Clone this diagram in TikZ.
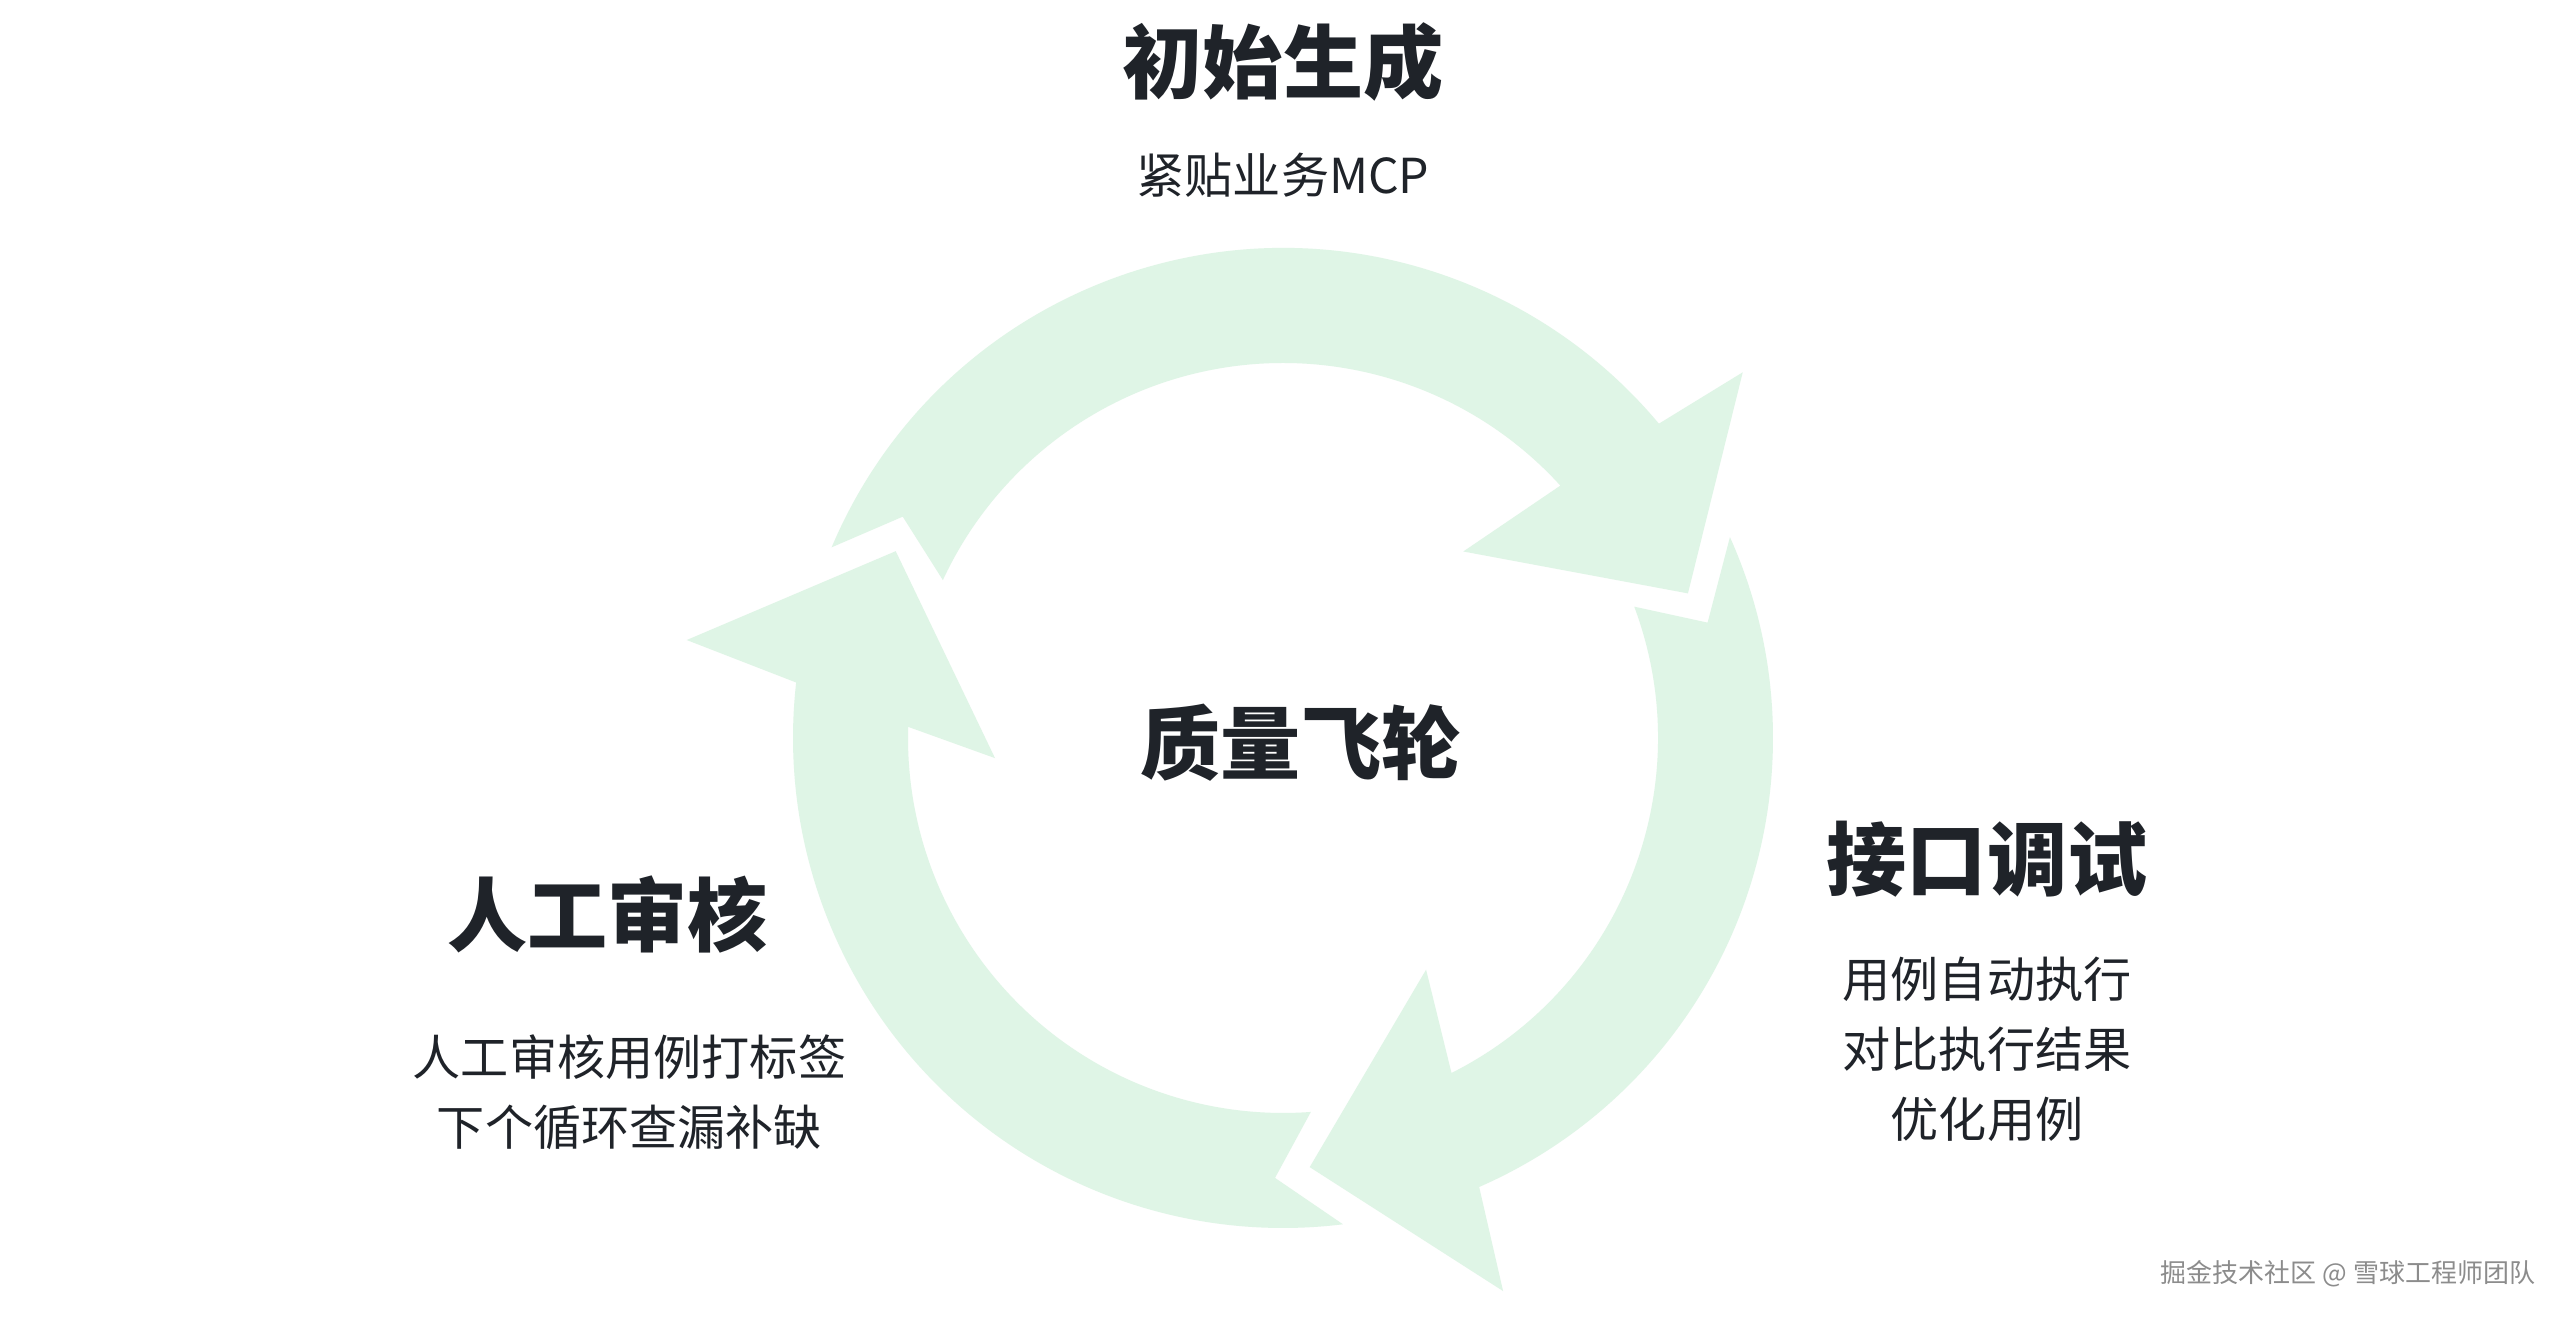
\documentclass[tikz,border=0pt]{standalone}
\usepackage{fontspec}
\setmainfont{Noto Sans CJK SC}
\usetikzlibrary{positioning}

\definecolor{ringgreen}{HTML}{DFF5E6}
\definecolor{inkdark}{HTML}{1F2329}
\definecolor{markgray}{HTML}{8C8C8C}

% one bent arrow of the wheel (angles in degrees, radii in cm):
% #1 tail outer corner, #2 tail notch, #3 tip, #4 outer shaft end,
% #5/#6 outer barb, #7/#8 inner barb, #9 inner shaft end
\newcommand{\wheelarrow}[9]{%
  \fill[ringgreen] (#1:4.9) arc[start angle=#1, end angle=#4, radius=4.9]
    -- (#5:#6) -- (#3:4.3) -- (#7:#8) -- (#9:3.75)
    arc[start angle=#9, end angle=#2+5.3, radius=3.75]
    -- (#2:4.4) -- cycle;}

\begin{document}
\begin{tikzpicture}[x=1cm,y=1cm,
    title/.style={font=\fontsize{22.8}{27}\selectfont\bfseries, text=inkdark, inner sep=0pt},
    desc/.style={font=\fontsize{13.7}{19.9}\selectfont, text=inkdark, align=center, inner sep=0pt}]
        \fill[white] (0,0) rectangle (25.6,13.2);
        \useasboundingbox (0,0) rectangle (25.6,13.2);
        % the wheel
        \begin{scope}[shift={(12.83,5.82)}]
            \wheelarrow{157.1}{149.8}{19.65}{39.9}{38.5}{5.875}{45.97}{2.594}{42.3}
            \wheelarrow{24.2}{15.2}{-86.44}{-66.4}{-68.3}{5.953}{-58.3}{2.723}{-63.3}
            \wheelarrow{-82.97}{-91.04}{-205.75}{-186.5}{-189.33}{6.043}{-176}{2.887}{-181.7}
        \end{scope}
        \node (hub) [title] at (13.01,5.775) {质量飞轮};
        % the three steps
        \node (genTitle) [title] at (12.83,12.58) {初始生成};
        \node (genDesc) [desc, below of=genTitle, node distance=1.13cm] {紧贴业务MCP};
        \node (debugTitle) [title] at (19.87,4.61) {接口调试};
        \node (debugDesc) [desc, below of=debugTitle, node distance=1.905cm] {用例自动执行\\对比执行结果\\优化用例};
        \node (reviewTitle) [title] at (6.075,4.05) {人工审核};
        \node (reviewDesc) [desc, below of=reviewTitle, node distance=1.775cm, xshift=0.22cm] {人工审核用例打标签\\下个循环查漏补缺};
        \node (mark) [font=\fontsize{7.4}{9}\selectfont, text=markgray, inner sep=0pt] at (23.48,0.465) {掘金技术社区 @ 雪球工程师团队};
    \end{tikzpicture}
\end{document}
